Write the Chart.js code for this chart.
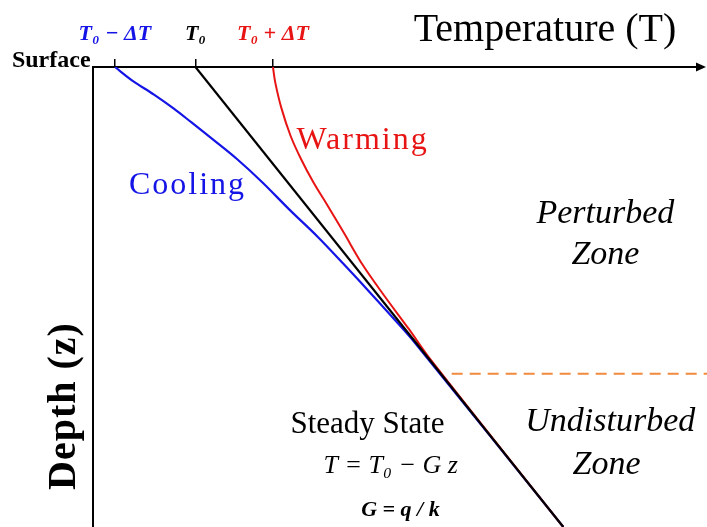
<!DOCTYPE html>
<html>
<head>
<meta charset="utf-8">
<script src="https://cdn.jsdelivr.net/npm/chart.js@4.4.1/dist/chart.umd.min.js"></script>
<style>
  body { margin: 0; background: #fff; }
  canvas { display: block; }
</style>
</head>
<body>
<canvas id="profileChart" width="707" height="527"></canvas>
<script>
// temperature (x) vs depth (y), arbitrary units 0-100
const depthSteady = [0, 100];
const tempSteady = [16.8, 77.1];

const depthCooling = [0, 3, 6, 9, 12, 16, 20, 25, 31, 37, 43, 49, 55, 60, 100];
const tempCooling = [3.6, 6.5, 10.0, 13.2, 16.1, 19.9, 23.6, 27.7, 32.2, 36.9, 41.2, 45.4, 49.5, 52.8, 77.1];

const depthWarming = [0, 3.5, 9, 15, 20, 25, 30, 36, 43, 50, 57, 63, 100];
const tempWarming = [29.5, 29.9, 30.9, 32.4, 34.1, 36.1, 38.4, 41.1, 44.2, 47.9, 51.8, 55.0, 77.1];

const tickTemps = [3.6, 16.8, 29.5];
const tickLabels = ['T₀ − ΔT', 'T₀', 'T₀ + ΔT'];

const boundaryDepth = [66.7, 66.7];
const boundaryTemp = [58.8, 101.2];

const serif = '"Liberation Serif", "DejaVu Serif", serif';
const BLUE = '#1414e6';
const RED = '#e81414';
const tickColors = [BLUE, '#000', RED];

function toPoints(xs, ys) {
    return xs.map((v, i) => ({ x: v, y: ys[i] }));
}

// text placed in data coordinates
const textLabels = [
    { text: 'Temperature (T)', x: 74.1, y: -8.0, font: '40px ' + serif, color: '#000' },
    { text: 'Surface', x: -0.4, y: -1.3, font: 'bold 24px ' + serif, color: '#000', align: 'right' },
    { text: 'Depth (z)', x: -4.6, y: 73.7, font: 'bold 40px ' + serif, color: '#000', rotate: true, spacing: '1px' },
    { text: 'Cooling', x: 15.5, y: 25.7, font: '32px ' + serif, color: BLUE, spacing: '2px' },
    { text: 'Warming', x: 44.2, y: 16.1, font: '32px ' + serif, color: RED, spacing: '2px' },
    { text: 'Perturbed', x: 84.0, y: 32.0, font: 'italic 34px ' + serif, color: '#000' },
    { text: 'Zone', x: 84.0, y: 40.9, font: 'italic 34px ' + serif, color: '#000' },
    { text: 'Undisturbed', x: 84.8, y: 77.2, font: 'italic 34px ' + serif, color: '#000' },
    { text: 'Zone', x: 84.2, y: 86.5, font: 'italic 34px ' + serif, color: '#000' },
    { text: 'Steady State', x: 45.0, y: 77.8, font: '31px ' + serif, color: '#000' },
    { text: 'T = T₀ − G z', x: 48.8, y: 86.7, font: 'italic 26px ' + serif, color: '#000' },
    { text: 'G = q / k', x: 50.4, y: 96.3, font: 'italic bold 22px ' + serif, color: '#000' }
];

const labelPlugin = {
    id: 'labels',
    afterDraw(chart) {
        const { ctx, chartArea, scales: { x, y } } = chart;
        ctx.save();
        // arrow head on temperature axis
        const ax = chartArea.right + 3;
        const ay = chartArea.top;
        ctx.fillStyle = '#000';
        ctx.beginPath();
        ctx.moveTo(ax, ay);
        ctx.lineTo(ax - 10, ay - 4.5);
        ctx.lineTo(ax - 10, ay + 4.5);
        ctx.closePath();
        ctx.fill();

        textLabels.forEach(t => {
            const px = x.getPixelForValue(t.x);
            const py = y.getPixelForValue(t.y);
            ctx.save();
            ctx.font = t.font;
            ctx.fillStyle = t.color;
            ctx.letterSpacing = t.spacing || '0px';
            ctx.textAlign = t.align || 'center';
            ctx.textBaseline = 'middle';
            ctx.translate(px, py);
            if (t.rotate) ctx.rotate(-Math.PI / 2);
            ctx.fillText(t.text, 0, 0);
            ctx.restore();
        });
        ctx.restore();
    }
};

const ctx = document.getElementById('profileChart').getContext('2d');
new Chart(ctx, {
    type: 'scatter',
    data: {
        datasets: [
            {
                label: 'Steady',
                data: toPoints(tempSteady, depthSteady),
                showLine: true,
                borderColor: '#000',
                borderWidth: 2.2,
                pointRadius: 0
            },
            {
                label: 'Warming',
                data: toPoints(tempWarming, depthWarming),
                showLine: true,
                borderColor: RED,
                borderWidth: 2,
                pointRadius: 0,
                tension: 0.35
            },
            {
                label: 'Cooling',
                data: toPoints(tempCooling, depthCooling),
                showLine: true,
                borderColor: BLUE,
                borderWidth: 2.2,
                pointRadius: 0,
                tension: 0.35
            },
            {
                label: 'Boundary',
                data: toPoints(boundaryTemp, boundaryDepth),
                showLine: true,
                borderColor: '#f08a3c',
                borderWidth: 2,
                borderDash: [11, 7],
                pointRadius: 0,
                clip: false
            }
        ]
    },
    options: {
        responsive: false,
        animation: false,
        layout: { padding: { right: 4 } },
        plugins: {
            legend: { display: false },
            tooltip: { enabled: false }
        },
        scales: {
            x: {
                type: 'linear',
                position: 'top',
                min: 0,
                max: 100,
                afterBuildTicks: s => { s.ticks = tickTemps.map(v => ({ value: v })); },
                afterFit: s => { s.height = 67; },
                ticks: {
                    callback: (v, i) => tickLabels[i],
                    color: c => tickColors[c.index],
                    font: { family: serif, size: 22, style: 'italic', weight: 'bold' },
                    padding: 11,
                    maxRotation: 0,
                    autoSkip: false
                },
                grid: { drawOnChartArea: false, drawTicks: true, tickLength: 8, color: '#000', lineWidth: 1.5 },
                border: { display: true, color: '#000', width: 2 }
            },
            y: {
                type: 'linear',
                reverse: true,
                min: 0,
                max: 100,
                afterFit: s => { s.width = 93; },
                ticks: { display: false },
                grid: { display: false },
                border: { display: true, color: '#000', width: 2 }
            }
        }
    },
    plugins: [labelPlugin]
});
</script>
</body>
</html>
